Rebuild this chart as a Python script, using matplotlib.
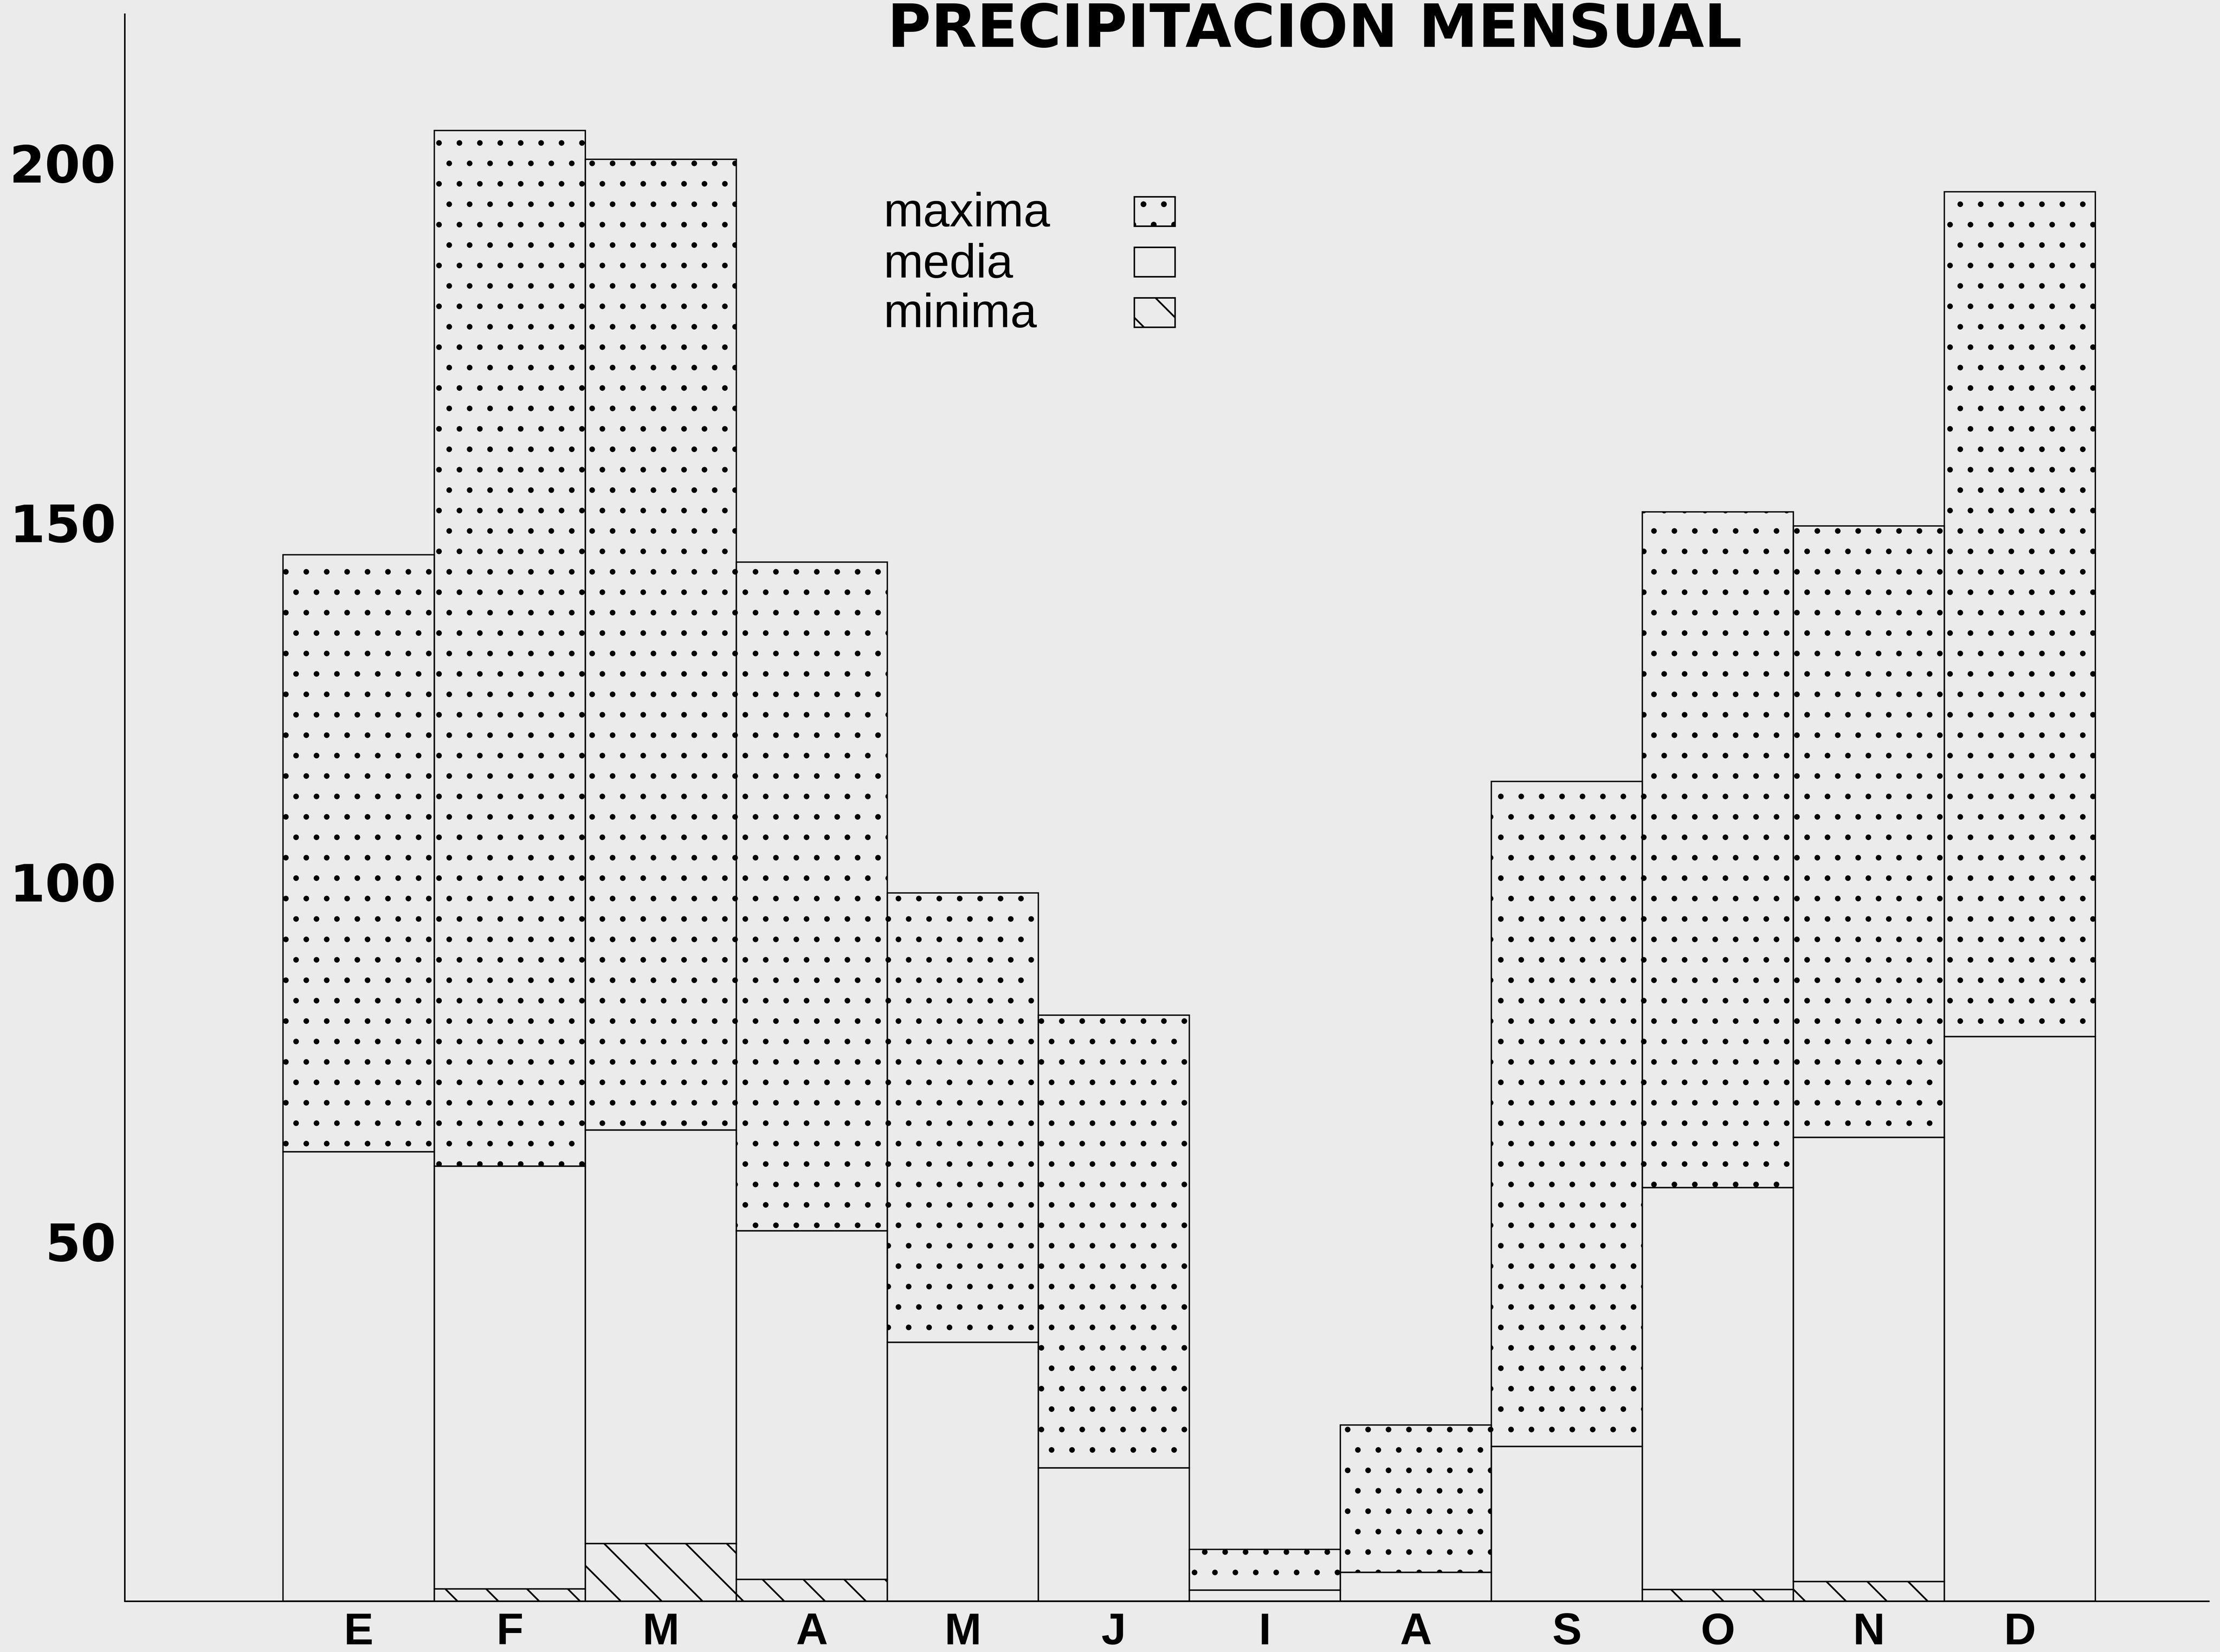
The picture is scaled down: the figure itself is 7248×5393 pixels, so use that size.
import matplotlib
matplotlib.use('Agg')
import matplotlib.pyplot as plt
from matplotlib.patches import Patch
import numpy as np

# precipitacion mensual (mm)
months = ['E', 'F', 'M', 'A', 'M', 'J', 'I', 'A', 'S', 'O', 'N', 'D']
maxima = [145.5, 204.5, 200.5, 144.5, 98.5, 81.5, 7.2, 24.5, 114.0, 151.5, 149.5, 196.0]
media = [62.5, 60.5, 65.5, 51.5, 36.0, 18.5, 1.5, 4.0, 21.5, 57.5, 64.5, 78.5]
minima = [0.0, 1.7, 8.0, 3.0, 0.0, 0.0, 0.0, 0.0, 0.0, 1.6, 2.7, 0.0]
yticks = [50, 100, 150, 200]
legend_labels = ['maxima', 'media', 'minima']

bg = '#ebebeb'
W, H = 1568.0, 1167.0   # layout measured on the shrunk reference

plt.rcParams['hatch.color'] = 'black'
fig = plt.figure(figsize=(18.12, 13.4825), dpi=400, facecolor=bg)
ax = fig.add_axes([88 / W, 1 - 1131 / H, (1560 - 88) / W, (1131 - 10) / H])
ax.set_facecolor(bg)

x = np.arange(len(months))
maxima = np.array(maxima)
media = np.array(media)
minima = np.array(minima)

lw = 0.8
with plt.rc_context({'hatch.linewidth': 0.9}):
    ax.bar(x, maxima - media, bottom=media, width=1.0, fill=False,
           edgecolor='black', linewidth=lw, hatch='.')
ax.bar(x, media - minima, bottom=minima, width=1.0, fill=False,
       edgecolor='black', linewidth=lw)
with plt.rc_context({'hatch.linewidth': 1.0}):
    ax.bar(x, minima, width=1.0, fill=False, edgecolor='black',
           linewidth=lw, hatch='\\')

ax.set_xlim(-1.55, 12.25)
ax.set_ylim(0, 220.7)
for s in ['top', 'right']:
    ax.spines[s].set_visible(False)
for s in ['left', 'bottom']:
    ax.spines[s].set_linewidth(0.9)

ax.set_yticks(yticks)
ax.set_yticklabels([str(v) for v in yticks], fontsize=30, fontweight='bold',
                   family='DejaVu Sans')
ax.set_xticks(x)
ax.set_xticklabels(months, fontsize=26, fontweight='bold', family='Liberation Sans')
ax.tick_params(axis='y', length=0, pad=5)
ax.tick_params(axis='x', length=0, pad=6.5)

fig.text(928.5 / W, 1 - 33 / H, 'PRECIPITACION MENSUAL', ha='center', va='baseline',
         fontsize=35, fontweight='bold', family='DejaVu Sans')

# legend: words left aligned, keys in a column to their right
for lab, yb in zip(legend_labels, [160, 196, 231]):
    fig.text(624 / W, 1 - yb / H, lab, ha='left', va='baseline',
             fontsize=28, family='Liberation Sans')
handles = [Patch(facecolor='none', edgecolor='black', hatch='.', linewidth=0.9),
           Patch(facecolor='none', edgecolor='black', linewidth=0.9),
           Patch(facecolor='none', edgecolor='black', hatch='\\', linewidth=0.9)]
fig.legend(handles, ['', '', ''], loc='upper left',
           bbox_to_anchor=(801 / W, 1 - 139 / H), frameon=False,
           prop={'family': 'Liberation Sans', 'size': 20},
           handlelength=1.2, handleheight=0.95, handletextpad=0,
           labelspacing=0.5, borderpad=0, borderaxespad=0)

fig.savefig('out.png', dpi=400, facecolor=bg)
